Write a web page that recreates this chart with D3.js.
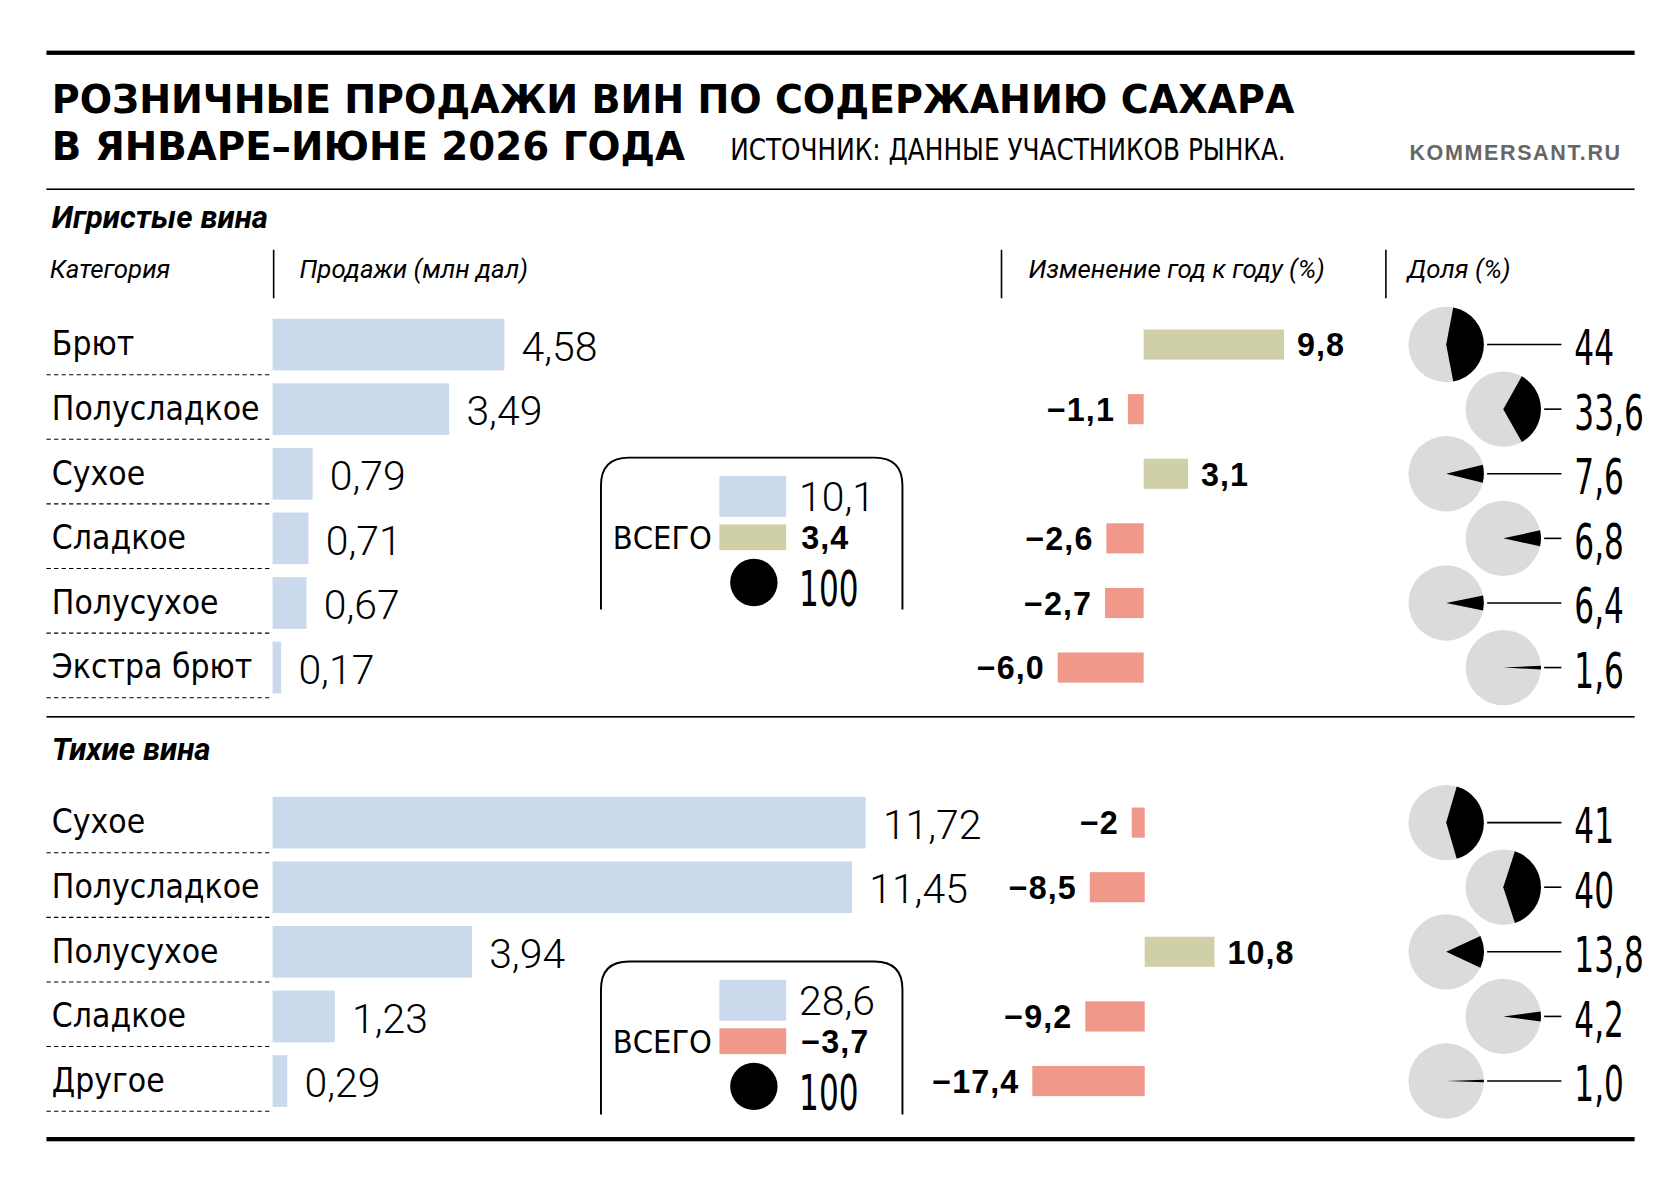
<!DOCTYPE html><html><head><meta charset="utf-8"><script src="https://cdn.jsdelivr.net/npm/d3@7"></script>
<style>body{margin:0;background:#fff}svg{display:block}</style></head><body><svg id="c" width="1680" height="1193" viewBox="0 0 1560 1108"></svg>
<script>
const sparkCats=["Брют","Полусладкое","Сухое","Сладкое","Полусухое","Экстра брют"];
const sparkSales=[4.58,3.49,0.79,0.71,0.67,0.17];
const sparkChange=[9.8,-1.1,3.1,-2.6,-2.7,-6.0];
const sparkShare=[44,33.6,7.6,6.8,6.4,1.6];
const stillCats=["Сухое","Полусладкое","Полусухое","Сладкое","Другое"];
const stillSales=[11.72,11.45,3.94,1.23,0.29];
const stillChange=[-2,-8.5,10.8,-9.2,-17.4];
const stillShare=[41,40,13.8,4.2,1.0];
const sparkShareLabels=["44","33,6","7,6","6,8","6,4","1,6"];
const stillShareLabels=["41","40","13,8","4,2","1,0"];
const sparkChangeLabels=["9,8","−1,1","3,1","−2,6","−2,7","−6,0"];
const stillChangeLabels=["−2","−8,5","10,8","−9,2","−17,4"];
const sparkTotal={sales:"10,1",change:3.4,share:"100"};
const stillTotal={sales:"28,6",change:-3.7,share:"100"};

const svg=d3.select("#c");
const BLUE="#cbd9ec",OLIVE="#d0d0a8",RED="#f0998b",GRAY="#dadbdd";
const num=(v,d)=>{let s=d==null?String(v):v.toFixed(d);return s.replace(".",",").replace("-","−");};
const cond="'Liberation Sans Narrow','DejaVu Sans Condensed',sans-serif";
const light="Roboto,'Liberation Sans',sans-serif";

svg.append("rect").attr("x",43).attr("y",47).attr("width",1475).attr("height",4);
svg.append("text").attr("x",48).attr("y",105).attr("font-family","'DejaVu Sans',sans-serif").attr("font-weight",900).attr("font-size",36).attr("textLength",1154).attr("lengthAdjust","spacingAndGlyphs").text("РОЗНИЧНЫЕ ПРОДАЖИ ВИН ПО СОДЕРЖАНИЮ САХАРА");
svg.append("text").attr("x",48).attr("y",149).attr("font-family","'DejaVu Sans',sans-serif").attr("font-weight",900).attr("font-size",36).attr("textLength",588).attr("lengthAdjust","spacingAndGlyphs").text("В ЯНВАРЕ–ИЮНЕ 2026 ГОДА");
svg.append("text").attr("x",678).attr("y",149).attr("font-family",cond).attr("font-size",28).attr("textLength",516).attr("lengthAdjust","spacingAndGlyphs").text("ИСТОЧНИК: ДАННЫЕ УЧАСТНИКОВ РЫНКА.");
svg.append("text").attr("x",1506).attr("y",149).attr("text-anchor","end").attr("fill","#666").attr("font-family","'Liberation Sans',sans-serif").attr("font-weight",700).attr("font-size",20).attr("letter-spacing",1.5).text("KOMMERSANT.RU");
svg.append("rect").attr("x",43).attr("y",175).attr("width",1475).attr("height",1.5);
svg.append("rect").attr("x",43).attr("y",665).attr("width",1475).attr("height",1.5);
svg.append("rect").attr("x",43).attr("y",1056).attr("width",1475).attr("height",4);

const ital=(x,y,t,s,w)=>svg.append("text").attr("x",x).attr("y",y).attr("font-family","'Liberation Sans Narrow','Roboto',sans-serif").attr("font-style","italic").attr("font-weight",w||400).attr("font-size",s).text(t);
ital(48,212,"Игристые вина",29,700);
ital(48,706,"Тихие вина",29,700);
ital(46,258,"Категория",24);ital(278,258,"Продажи (млн дал)",24);ital(955,258,"Изменение год к году (%)",24);ital(1307,258,"Доля (%)",24);
[254,930,1287].forEach(x=>svg.append("line").attr("x1",x).attr("x2",x).attr("y1",232).attr("y2",277).attr("stroke","#000").attr("stroke-width",1.5));

const xs=d3.scaleLinear().domain([0,1]).range([253,300]);
function section(cats,sales,change,share,chLabels,shLabels,y0,chScale,total,boxTop,boxBot){
  const ys=d3.scaleBand().domain(cats).range([y0,y0+60*cats.length]).paddingInner(0.2).paddingOuter(0.1);
  const g=svg.append("g");
  cats.forEach((c,i)=>{
    const cy=ys(c)+ys.bandwidth()/2, top=y0+60*i;
    g.append("text").attr("x",48).attr("y",cy+10).attr("font-family",cond).attr("font-size",31).text(c);
    g.append("line").attr("x1",43).attr("x2",250).attr("y1",top+58).attr("y2",top+58).attr("stroke","#000").attr("stroke-dasharray","4,3");
    g.append("rect").attr("x",xs(0)).attr("y",ys(c)).attr("width",xs(sales[i])-xs(0)).attr("height",ys.bandwidth()).attr("fill",BLUE);
    g.append("text").attr("x",xs(sales[i])+16).attr("y",cy+15).attr("font-family",light).attr("font-weight",300).attr("font-size",38).text(num(sales[i],2));
    const v=change[i],cx=chScale(v),z=chScale(0);
    g.append("rect").attr("x",Math.min(cx,z)).attr("y",cy-14).attr("width",Math.abs(cx-z)).attr("height",28).attr("fill",v>=0?OLIVE:RED);
    g.append("text").attr("x",v>=0?cx+12:cx-12).attr("y",cy+11).attr("text-anchor",v>=0?"start":"end").attr("font-family","'Liberation Sans',sans-serif").attr("font-weight",700).attr("font-size",30).attr("letter-spacing",1).text(chLabels[i]);
    const px=i%2===0?1343:1396,r=35;
    const ang=share[i]/100*Math.PI*2;
    g.append("circle").attr("cx",px).attr("cy",cy).attr("r",r).attr("fill",GRAY);
    g.append("path").attr("transform",`translate(${px},${cy})`).attr("d",d3.arc().innerRadius(0).outerRadius(r)({startAngle:Math.PI/2-ang/2,endAngle:Math.PI/2+ang/2})).attr("fill","#000");
    g.append("line").attr("x1",px+r+3).attr("x2",1450).attr("y1",cy).attr("y2",cy).attr("stroke","#000").attr("stroke-width",1.5);
    g.append("text").attr("x",0).attr("y",0).attr("transform",`translate(1462,${cy+19}) scale(0.7,1)`).attr("font-family",cond).attr("font-size",46).text(shLabels[i]);
  });
  const bx=558,bw=280,r=26;
  g.append("path").attr("d",`M${bx},${boxBot}V${boxTop+r}Q${bx},${boxTop} ${bx+r},${boxTop}H${bx+bw-r}Q${bx+bw},${boxTop} ${bx+bw},${boxTop+r}V${boxBot}`).attr("fill","none").attr("stroke","#000").attr("stroke-width",1.8);
  const t=boxTop;
  g.append("rect").attr("x",668).attr("y",t+17).attr("width",62).attr("height",38).attr("fill",BLUE);
  g.append("rect").attr("x",668).attr("y",t+62).attr("width",62).attr("height",24).attr("fill",total.change>=0?OLIVE:RED);
  g.append("circle").attr("cx",700).attr("cy",t+116).attr("r",22).attr("fill","#000");
  g.append("text").attr("x",742).attr("y",t+50).attr("font-family",light).attr("font-weight",300).attr("font-size",38).text(total.sales);
  g.append("text").attr("x",744).attr("y",t+85).attr("font-family","'Liberation Sans',sans-serif").attr("font-weight",700).attr("font-size",30).attr("letter-spacing",1).text(num(total.change,1));
  g.append("text").attr("x",569).attr("y",t+85).attr("font-family",cond).attr("font-size",30).text("ВСЕГО");
  g.append("text").attr("x",0).attr("y",0).attr("transform",`translate(742,${t+138}) scale(0.7,1)`).attr("font-family",cond).attr("font-size",46).text(total.share);
}
section(sparkCats,sparkSales,sparkChange,sparkShare,sparkChangeLabels,sparkShareLabels,290,d3.scaleLinear().domain([0,1]).range([1062,1075.3]),sparkTotal,425,566);
section(stillCats,stillSales,stillChange,stillShare,stillChangeLabels,stillShareLabels,734,d3.scaleLinear().domain([0,1]).range([1063,1069]),stillTotal,893,1035);
</script></body></html>
